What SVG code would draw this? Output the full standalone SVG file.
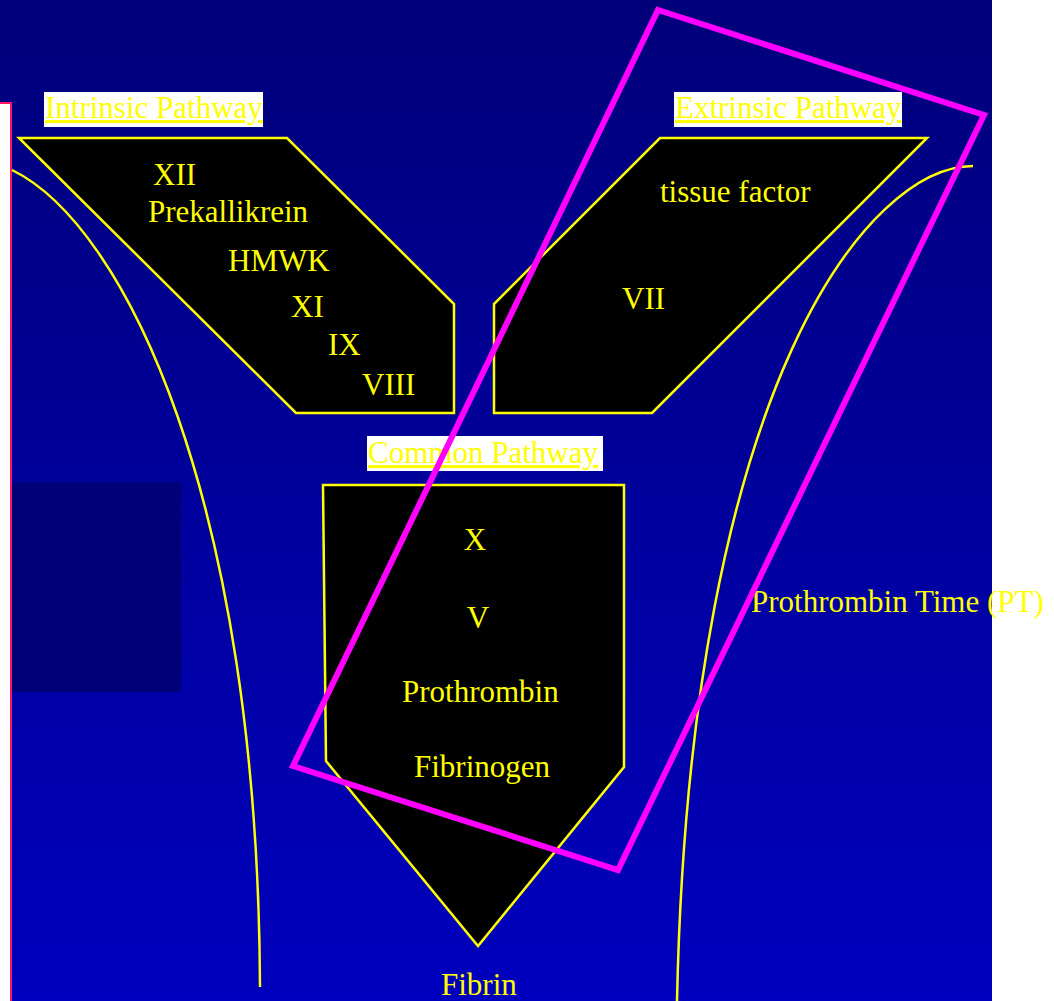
<svg xmlns="http://www.w3.org/2000/svg" width="1054" height="1001" viewBox="0 0 1054 1001">
<defs>
<linearGradient id="bg" x1="0" y1="0" x2="0" y2="1">
<stop offset="0" stop-color="#00007A"/>
<stop offset="1" stop-color="#0000BE"/>
</linearGradient>
<style>
.t{font-family:"Liberation Serif","Times New Roman",serif;font-size:31px;fill:#FFFF00}
.lbl{text-decoration:underline}
.shape{fill:#000000;stroke:#FFFF00;stroke-width:2.5;stroke-linejoin:miter}
.curve{fill:none;stroke:#FFFF00;stroke-width:2.5}
.box{fill:#FFFFFF}
</style>
</defs>
<rect x="0" y="0" width="1054" height="1001" fill="#FFFFFF"/>
<rect x="0" y="0" width="992" height="1001" fill="url(#bg)"/>
<rect x="0" y="103" width="11" height="898" fill="#FFFFFF"/>
<path d="M0,103 H11 V1001" fill="none" stroke="#FF1464" stroke-width="2"/>
<rect x="12" y="482" width="169" height="210" fill="#000078"/>
<g id="connectors">
<path class="curve" d="M12,170 C125,225 258,500 260,987"/>
<path class="curve" d="M973,166 C870,166 690,380 677,1001"/>
</g>
<g id="intrinsic">
<polygon class="shape" points="19,138 287,138 454,304 454,413 296,413"/>
<rect class="box" x="44" y="92" width="219" height="35"/>
<text class="t lbl" x="45" y="118">Intrinsic Pathway</text>
<text class="t" x="153" y="185">XII</text>
<text class="t" x="148" y="222">Prekallikrein</text>
<text class="t" x="228" y="271">HMWK</text>
<text class="t" x="291" y="317">XI</text>
<text class="t" x="328" y="355">IX</text>
<text class="t" x="362" y="395">VIII</text>
</g>
<g id="extrinsic">
<polygon class="shape" points="660,138 927,138 652,413 494,413 494,304"/>
<rect class="box" x="674" y="92" width="228" height="35"/>
<text class="t lbl" x="675" y="118">Extrinsic Pathway</text>
<text class="t" x="660" y="202">tissue factor</text>
<text class="t" x="622" y="309">VII</text>
</g>
<g id="common">
<polygon class="shape" points="323,485 624,485 624,767 478,946 326,761"/>
<rect class="box" x="367" y="436" width="236" height="35"/>
<text class="t lbl" x="368" y="463">Common Pathway</text>
<text class="t" x="475" y="550" text-anchor="middle">X</text>
<text class="t" x="478" y="628" text-anchor="middle">V</text>
<text class="t" x="402" y="702">Prothrombin</text>
<text class="t" x="414" y="777">Fibrinogen</text>
</g>
<g id="fibrin">
<text class="t" x="441" y="995">Fibrin</text>
</g>
<g id="pt">
<text class="t" x="751" y="612">Prothrombin Time (PT)</text>
</g>
<g id="highlight">
<polygon points="658,10 984,115 618,870 293,766" fill="none" stroke="#FF00FF" stroke-width="6"/>
</g>
</svg>
